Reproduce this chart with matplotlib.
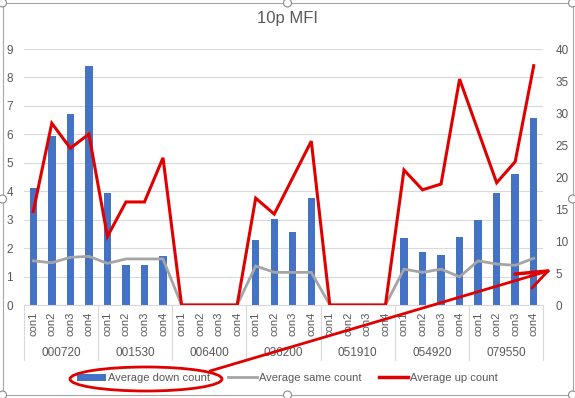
import matplotlib
matplotlib.use("Agg")
import matplotlib.pyplot as plt
import matplotlib.transforms as mtransforms
from matplotlib.patches import Ellipse, Rectangle, Circle, Patch
from matplotlib.lines import Line2D

groups = ['000720', '001530', '006400', '036200', '051910', '054920', '079550']
cons = ['con1', 'con2', 'con3', 'con4']
down = [4.1, 5.93, 6.7, 8.4, 3.95, 1.41, 1.41, 1.72, 0, 0, 0, 0,
        2.27, 3.03, 2.58, 3.77, 0, 0, 0, 0, 2.37, 1.87, 1.77, 2.39,
        3.0, 3.95, 4.62, 6.56]
same = [6.9, 6.6, 7.45, 7.6, 6.5, 7.2, 7.2, 7.2, 0, 0, 0, 0,
        6.1, 5.1, 5.1, 5.1, 0, 0, 0, 0, 5.6, 5.1, 5.6, 4.4,
        6.9, 6.4, 6.2, 7.3]
up = [14.6, 28.4, 24.5, 26.7, 10.7, 16.1, 16.1, 23.0, 0, 0, 0, 0,
      16.7, 14.2, 19.9, 25.6, 0, 0, 0, 0, 21.1, 18.0, 18.9, 35.3,
      27.2, 19.1, 22.4, 37.4]
left_ticks = list(range(0, 10))
right_ticks = list(range(0, 45, 5))
title = '10p MFI'
series_names = ['Average down count', 'Average same count', 'Average up count']

C_BAR = '#4472C4'
C_GRAY = '#A5A5A5'
C_RED = '#E00000'
C_TXT = '#595959'
C_GRID = '#D9D9D9'

plt.rcParams['font.family'] = ['Liberation Sans', 'DejaVu Sans']

W, H = 575, 398
fig = plt.figure(figsize=(W / 100, H / 100), dpi=100)
fig.patch.set_facecolor('white')

x0, x1, yt, yb = 24, 543, 49, 305
ax = fig.add_axes([x0 / W, 1 - yb / H, (x1 - x0) / W, (yb - yt) / H])
ax2 = ax.twinx()

n = len(down)
xs = list(range(n))
ax.bar(xs, down, width=0.4, color=C_BAR, zorder=2)
ax.set_xlim(-0.5, n - 0.5)
ax.set_ylim(0, 9)
ax.set_yticks(left_ticks)
ax.grid(axis='y', color=C_GRID, lw=0.8, zorder=0)
ax.set_axisbelow(True)
for s in ['top', 'left', 'right']:
    ax.spines[s].set_visible(False)
ax.spines['bottom'].set_color(C_GRID)
ax.tick_params(axis='y', length=0, pad=8, labelsize=8.5, labelcolor=C_TXT)

labels = [c for g in groups for c in cons]
ax.set_xticks(xs)
ax.set_xticklabels(labels, rotation=90, fontsize=8, color=C_TXT)
ax.tick_params(axis='x', length=0, pad=5)

ax2.plot(xs, same, color=C_GRAY, lw=2.0, solid_joinstyle='miter', zorder=3)
ax2.plot(xs, up, color=C_RED, lw=2.2, solid_joinstyle='miter', zorder=4)
ax2.set_ylim(0, 40)
ax2.set_yticks(right_ticks)
for s in ['top', 'left', 'right', 'bottom']:
    ax2.spines[s].set_visible(False)
ax2.tick_params(axis='y', length=0, pad=9, labelsize=8.5, labelcolor=C_TXT)

# multi-level category axis
trans = mtransforms.blended_transform_factory(ax.transData, ax.transAxes)
sep_bottom = -(360 - yb) / (yb - yt)
grp_y = -(353 - yb) / (yb - yt)
for i in range(len(groups) + 1):
    xb = i * len(cons) - 0.5
    ax.plot([xb, xb], [0, sep_bottom], transform=trans, color=C_GRID, lw=0.8,
            clip_on=False)
for i, g in enumerate(groups):
    xc = i * len(cons) + (len(cons) - 1) / 2
    ax.text(xc, grp_y, g, transform=trans, ha='center', va='center',
            fontsize=8.5, color=C_TXT)

fig.text(0.5, 1 - 18 / H, title, ha='center', va='center', fontsize=12,
         color=C_TXT)

handles = [Patch(facecolor=C_BAR, edgecolor='none'),
           Line2D([], [], color=C_GRAY, lw=2.0),
           Line2D([], [], color=C_RED, lw=2.5)]
fig.legend(handles, series_names, loc='center', bbox_to_anchor=(0.5, 1 - 378 / H),
           ncol=3, frameon=False, fontsize=8, handlelength=2.6, handletextpad=0.2,
           columnspacing=1.6, labelcolor=C_TXT, handleheight=0.6)

# overlay for annotations and chart frame
ov = fig.add_axes([0, 0, 1, 1], zorder=10)
ov.set_xlim(0, W)
ov.set_ylim(H, 0)
ov.axis('off')
ov.patch.set_alpha(0)

ov.add_patch(Rectangle((2.5, 3), W - 5, H - 6, fill=False, ec='#A6A6A6', lw=0.8))
for (hx, hy) in [(2.5, 3), (W / 2, 3), (W - 2.5, 3), (2.5, H / 2), (W - 2.5, H / 2),
                 (2.5, H - 3), (W / 2, H - 3), (W - 2.5, H - 3)]:
    ov.add_patch(Circle((hx, hy), 4, fc='white', ec='#8C8C8C', lw=0.8))

ov.add_patch(Ellipse((146, 379), 152, 24, fill=False, ec=C_RED, lw=2.0))
ov.plot([210, 548], [371, 271], color=C_RED, lw=2.0, solid_capstyle='round')
ov.plot([515, 548], [274, 271], color=C_RED, lw=2.5, solid_capstyle='round')
ov.plot([532, 548], [288, 271], color=C_RED, lw=2.0, solid_capstyle='round')

fig.savefig('out.png', dpi=100)
